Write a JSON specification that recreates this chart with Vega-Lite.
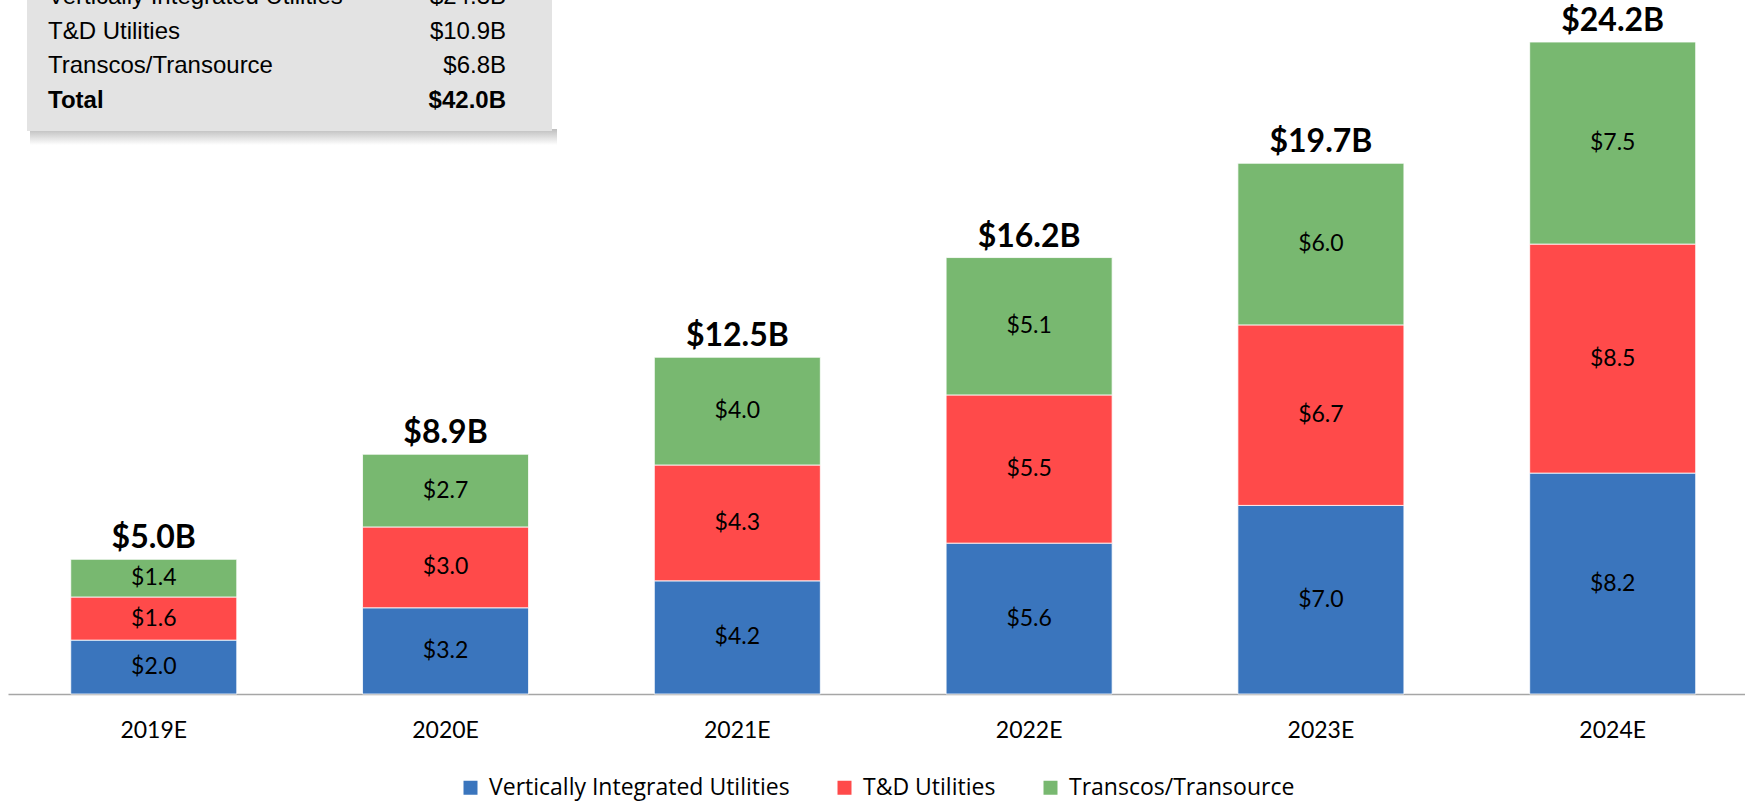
{
  "$schema": "https://vega.github.io/schema/vega-lite/v6.json",
  "width": 1737,
  "height": 687,
  "autosize": {"type": "none"},
  "padding": {"left": 8, "top": 7, "right": 0, "bottom": 107},
  "background": "white",
  "config": {"view": {"stroke": null}},
  "datasets": {
    "capex": [
      {"year": "2019E", "segment": "Vertically Integrated Utilities", "value": 2.0},
      {"year": "2019E", "segment": "T&D Utilities", "value": 1.6},
      {"year": "2019E", "segment": "Transcos/Transource", "value": 1.4},
      {"year": "2020E", "segment": "Vertically Integrated Utilities", "value": 3.2},
      {"year": "2020E", "segment": "T&D Utilities", "value": 3.0},
      {"year": "2020E", "segment": "Transcos/Transource", "value": 2.7},
      {"year": "2021E", "segment": "Vertically Integrated Utilities", "value": 4.2},
      {"year": "2021E", "segment": "T&D Utilities", "value": 4.3},
      {"year": "2021E", "segment": "Transcos/Transource", "value": 4.0},
      {"year": "2022E", "segment": "Vertically Integrated Utilities", "value": 5.6},
      {"year": "2022E", "segment": "T&D Utilities", "value": 5.5},
      {"year": "2022E", "segment": "Transcos/Transource", "value": 5.1},
      {"year": "2023E", "segment": "Vertically Integrated Utilities", "value": 7.0},
      {"year": "2023E", "segment": "T&D Utilities", "value": 6.7},
      {"year": "2023E", "segment": "Transcos/Transource", "value": 6.0},
      {"year": "2024E", "segment": "Vertically Integrated Utilities", "value": 8.2},
      {"year": "2024E", "segment": "T&D Utilities", "value": 8.5},
      {"year": "2024E", "segment": "Transcos/Transource", "value": 7.5}
    ],
    "summary": [
      {"item": "Vertically Integrated Utilities", "amount": 24.3},
      {"item": "T&D Utilities", "amount": 10.9},
      {"item": "Transcos/Transource", "amount": 6.8},
      {"item": "Total", "amount": 42.0}
    ]
  },
  "layer": [
    {
      "data": {"name": "capex"},
      "transform": [
        {"window": [{"op": "row_number", "as": "stack_rank"}], "groupby": ["year"]}
      ],
      "encoding": {
        "x": {
          "field": "year",
          "type": "nominal",
          "scale": {"type": "band", "paddingInner": 0.431, "paddingOuter": 0.192, "align": 0.56},
          "axis": {
            "title": null,
            "labelAngle": 0,
            "labelFont": "Lato",
            "labelFontSize": 23,
            "labelColor": "#000000",
            "ticks": false,
            "tickSize": 0,
            "labelPadding": 43,
            "labelBaseline": "alphabetic",
            "domainColor": "#A6A6A6",
            "domainWidth": 1.5,
            "grid": false
          }
        }
      },
      "layer": [
        {
          "mark": {"type": "bar", "stroke": "#ffffff", "strokeWidth": 0.8},
          "encoding": {
            "y": {"field": "value", "type": "quantitative", "stack": "zero", "scale": {"domain": [0, 25.5], "nice": false}, "axis": null},
            "color": {
              "field": "segment",
              "type": "nominal",
              "scale": {
                "domain": ["Vertically Integrated Utilities", "T&D Utilities", "Transcos/Transource"],
                "range": ["#3A75BD", "#FF4A4A", "#78B870"]
              },
              "legend": {
                "orient": "none",
                "legendX": 451,
                "legendY": 769,
                "direction": "horizontal",
                "title": null,
                "symbolType": "square",
                "symbolSize": 196,
                "symbolStrokeWidth": 0,
                "labelFont": "Open Sans",
                "labelFontSize": 23,
                "labelColor": "#000000",
                "labelOffset": 7,
                "columnPadding": 43,
                "padding": 0,
                "labelLimit": 0
              }
            },
            "order": {"field": "stack_rank", "type": "quantitative", "sort": "ascending"}
          }
        },
        {
          "mark": {"type": "text", "font": "Lato", "fontSize": 23, "color": "#000000", "baseline": "middle", "align": "center"},
          "encoding": {
            "y": {"field": "value", "type": "quantitative", "stack": "zero", "bandPosition": 0.5},
            "detail": {"field": "segment"},
            "order": {"field": "stack_rank", "type": "quantitative", "sort": "ascending"},
            "text": {"field": "value", "type": "quantitative", "format": "$.1f"}
          }
        },
        {
          "transform": [{"aggregate": [{"op": "sum", "field": "value", "as": "total"}], "groupby": ["year"]}],
          "mark": {
            "type": "text",
            "font": "Lato",
            "fontSize": 32,
            "fontWeight": "bold",
            "color": "#000000",
            "baseline": "alphabetic",
            "align": "center",
            "dy": -11,
            "text": {"expr": "'$' + format(datum.total, '.1f') + 'B'"}
          },
          "encoding": {
            "y": {"field": "total", "type": "quantitative"}
          }
        }
      ]
    },
    {
      "data": {"name": "summary"},
      "encoding": {
        "y": {
          "field": "item",
          "type": "nominal",
          "scale": {"type": "point", "domain": ["Vertically Integrated Utilities", "T&D Utilities", "Transcos/Transource", "Total"], "range": [-3, 101], "padding": 0},
          "axis": null
        }
      },
      "layer": [
        {
          "data": {"values": [{}]},
          "mark": {
            "type": "rect",
            "fill": {"gradient": "linear", "x1": 0, "y1": 0, "x2": 0, "y2": 1, "stops": [{"offset": 0, "color": "#BDBDBD"}, {"offset": 1, "color": "#FFFFFF"}]}
          },
          "encoding": {"x": {"value": 22}, "x2": {"value": 549}, "y": {"value": 122}, "y2": {"value": 138}}
        },
        {
          "data": {"values": [{}]},
          "mark": {"type": "rect", "fill": "#E3E3E3"},
          "encoding": {"x": {"value": 19}, "x2": {"value": 544}, "y": {"value": -20}, "y2": {"value": 124}}
        },
        {
          "transform": [{"filter": "datum.item !== 'Total'"}],
          "mark": {"type": "text", "font": "Liberation Sans", "fontSize": 24, "color": "#000000", "align": "left", "baseline": "alphabetic"},
          "encoding": {"x": {"value": 40}, "text": {"field": "item"}}
        },
        {
          "transform": [{"filter": "datum.item !== 'Total'"}],
          "mark": {"type": "text", "font": "Liberation Sans", "fontSize": 24, "color": "#000000", "align": "right", "baseline": "alphabetic", "text": {"expr": "'$' + format(datum.amount, '.1f') + 'B'"}},
          "encoding": {"x": {"value": 498}}
        },
        {
          "transform": [{"filter": "datum.item === 'Total'"}],
          "mark": {"type": "text", "font": "Liberation Sans", "fontSize": 24, "fontWeight": "bold", "color": "#000000", "align": "left", "baseline": "alphabetic"},
          "encoding": {"x": {"value": 40}, "text": {"field": "item"}}
        },
        {
          "transform": [{"filter": "datum.item === 'Total'"}],
          "mark": {"type": "text", "font": "Liberation Sans", "fontSize": 24, "fontWeight": "bold", "color": "#000000", "align": "right", "baseline": "alphabetic", "text": {"expr": "'$' + format(datum.amount, '.1f') + 'B'"}},
          "encoding": {"x": {"value": 498}}
        }
      ]
    }
  ],
  "resolve": {"scale": {"x": "independent", "y": "independent"}}
}
